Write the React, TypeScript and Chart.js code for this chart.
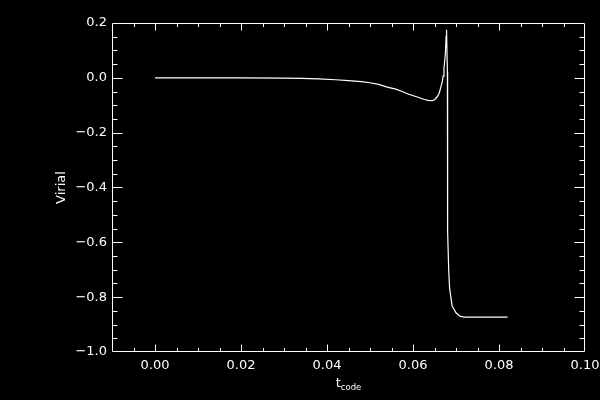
import React, { useEffect, useRef } from "react";
import { Chart, registerables } from "chart.js";

Chart.register(...registerables);

// ---- data ----
const tCode = [
  0.0, 0.01, 0.02, 0.03, 0.034, 0.038, 0.042, 0.045, 0.048, 0.05, 0.052,
  0.054, 0.056, 0.0575, 0.059, 0.061, 0.0625, 0.0635, 0.0645, 0.065, 0.0656,
  0.0661, 0.0665, 0.0668, 0.067, 0.0672, 0.0675, 0.0677, 0.0678, 0.068,
  0.06805, 0.0683, 0.0685, 0.0688, 0.0691, 0.0696, 0.07, 0.071, 0.072, 0.082,
];
const virial = [
  0.0, 0.0, 0.0, -0.001, -0.002, -0.004, -0.007, -0.01, -0.014, -0.018,
  -0.024, -0.034, -0.041, -0.05, -0.06, -0.07, -0.078, -0.082, -0.083, -0.08,
  -0.07, -0.056, -0.032, -0.016, 0.006, 0.035, 0.083, 0.15, 0.175, 0.02,
  -0.56, -0.7, -0.765, -0.8, -0.832, -0.846, -0.857, -0.87, -0.873, -0.873,
];

const xMin = -0.01;
const xMax = 0.1;
const yMin = -1.0;
const yMax = 0.2;
const xMajorTicks = [0.0, 0.02, 0.04, 0.06, 0.08, 0.1];
const yMajorTicks = [-1.0, -0.8, -0.6, -0.4, -0.2, 0.0, 0.2];
const xMinorStep = 0.005;
const yMinorStep = 0.05;

const xTitle = "t";
const xTitleSub = "code";
const yTitle = "Virial";

const FONT = "'DejaVu Sans', sans-serif";

const fmtNeg = (s: string) => s.replace("-", "\u2212");

const frameTicks = {
  id: "idlFrame",
  beforeDraw(chart: any) {
    const ctx = chart.ctx;
    ctx.save();
    ctx.fillStyle = "#000";
    ctx.fillRect(0, 0, chart.width, chart.height);
    ctx.restore();
  },
  afterDraw(chart: any) {
    const ctx = chart.ctx;
    const { left, right, top, bottom } = chart.chartArea;
    const xs = chart.scales.x;
    const ys = chart.scales.y;
    const L = left + 0.5;
    const R = right - 0.5;
    const T = top + 0.5;
    const B = bottom - 0.5;
    ctx.save();
    ctx.strokeStyle = "#fff";
    ctx.lineWidth = 1;
    ctx.beginPath();
    ctx.rect(L, T, R - L, B - T);
    ctx.stroke();

    const isMajor = (v: number, majors: number[]) =>
      majors.some((m) => Math.abs(m - v) < 1e-9);

    ctx.beginPath();
    // x ticks (bottom & top)
    const nx = Math.round((xMax - xMin) / xMinorStep);
    for (let i = 0; i <= nx; i++) {
      const v = xMin + i * xMinorStep;
      const len = isMajor(v, xMajorTicks) ? 7 : 3.5;
      const px = Math.round(xs.getPixelForValue(v)) + 0.5;
      if (px <= L + 0.1 || px >= R - 0.1) continue;
      ctx.moveTo(px, B);
      ctx.lineTo(px, B - len);
      ctx.moveTo(px, T);
      ctx.lineTo(px, T + len);
    }
    // y ticks (left & right)
    const ny = Math.round((yMax - yMin) / yMinorStep);
    for (let i = 0; i <= ny; i++) {
      const v = yMin + i * yMinorStep;
      const len = isMajor(v, yMajorTicks) ? 10 : 5;
      const py = Math.round(ys.getPixelForValue(v)) + 0.5;
      if (py <= T + 0.1 || py >= B - 0.1) continue;
      ctx.moveTo(L, py);
      ctx.lineTo(L + len, py);
      ctx.moveTo(R, py);
      ctx.lineTo(R - len, py);
    }
    ctx.stroke();

    // x title with subscript
    ctx.fillStyle = "#fff";
    ctx.textBaseline = "alphabetic";
    ctx.textAlign = "left";
    const mainFont = `13px ${FONT}`;
    const subFont = `8.5px ${FONT}`;
    ctx.font = mainFont;
    const w1 = ctx.measureText(xTitle).width;
    ctx.font = subFont;
    const w2 = ctx.measureText(xTitleSub).width;
    const cx = (left + right) / 2;
    const x0 = cx - (w1 + w2) / 2;
    ctx.font = mainFont;
    ctx.fillText(xTitle, x0, bottom + 35);
    ctx.font = subFont;
    ctx.fillText(xTitleSub, x0 + w1, bottom + 38);

    // y title rotated
    ctx.font = `13px ${FONT}`;
    ctx.translate(65, (top + bottom) / 2);
    ctx.rotate(-Math.PI / 2);
    ctx.textAlign = "center";
    ctx.fillText(yTitle, 0, 0);
    ctx.restore();
  },
};

export default function App() {
  const ref = useRef<HTMLCanvasElement | null>(null);

  useEffect(() => {
    if (!ref.current) return;
    const points = tCode.map((t, i) => ({ x: t, y: virial[i] }));
    const chart = new Chart(ref.current, {
      type: "line",
      data: {
        datasets: [
          {
            data: points,
            borderColor: "#ffffff",
            borderWidth: 1.2,
            pointRadius: 0,
            tension: 0,
            fill: false,
          },
        ],
      },
      options: {
        responsive: false,
        animation: false,
        devicePixelRatio: 1,
        layout: { padding: { top: 23, right: 15, left: 0, bottom: 0 } },
        plugins: {
          legend: { display: false },
          tooltip: { enabled: false },
          title: { display: false },
        },
        scales: {
          x: {
            type: "linear",
            min: xMin,
            max: xMax,
            grid: { display: false, drawTicks: false },
            border: { display: false },
            afterBuildTicks: (scale: any) => {
              scale.ticks = xMajorTicks.map((v) => ({ value: v }));
            },
            afterFit: (scale: any) => {
              scale.height = 48;
              scale.paddingLeft = 0;
              scale.paddingRight = 0;
            },
            ticks: {
              color: "#fff",
              padding: 6,
              maxRotation: 0,
              autoSkip: false,
              font: { family: FONT, size: 13 },
              callback: (v: any) => fmtNeg(Number(v).toFixed(2)),
            },
          },
          y: {
            type: "linear",
            min: yMin,
            max: yMax,
            grid: { display: false, drawTicks: false },
            border: { display: false },
            afterBuildTicks: (scale: any) => {
              scale.ticks = yMajorTicks.map((v) => ({ value: v }));
            },
            afterFit: (scale: any) => {
              scale.width = 112;
              scale.paddingTop = 0;
              scale.paddingBottom = 0;
            },
            ticks: {
              color: "#fff",
              padding: 5,
              autoSkip: false,
              font: { family: FONT, size: 13 },
              callback: (v: any) => fmtNeg(Number(v).toFixed(1)),
            },
          },
        },
      },
      plugins: [frameTicks],
    });
    return () => chart.destroy();
  }, []);

  return (
    <div
      style={{
        position: "fixed",
        left: 0,
        top: 0,
        width: 600,
        height: 400,
        background: "#000",
      }}
    >
      <canvas ref={ref} width={600} height={400} style={{ display: "block" }} />
    </div>
  );
}
